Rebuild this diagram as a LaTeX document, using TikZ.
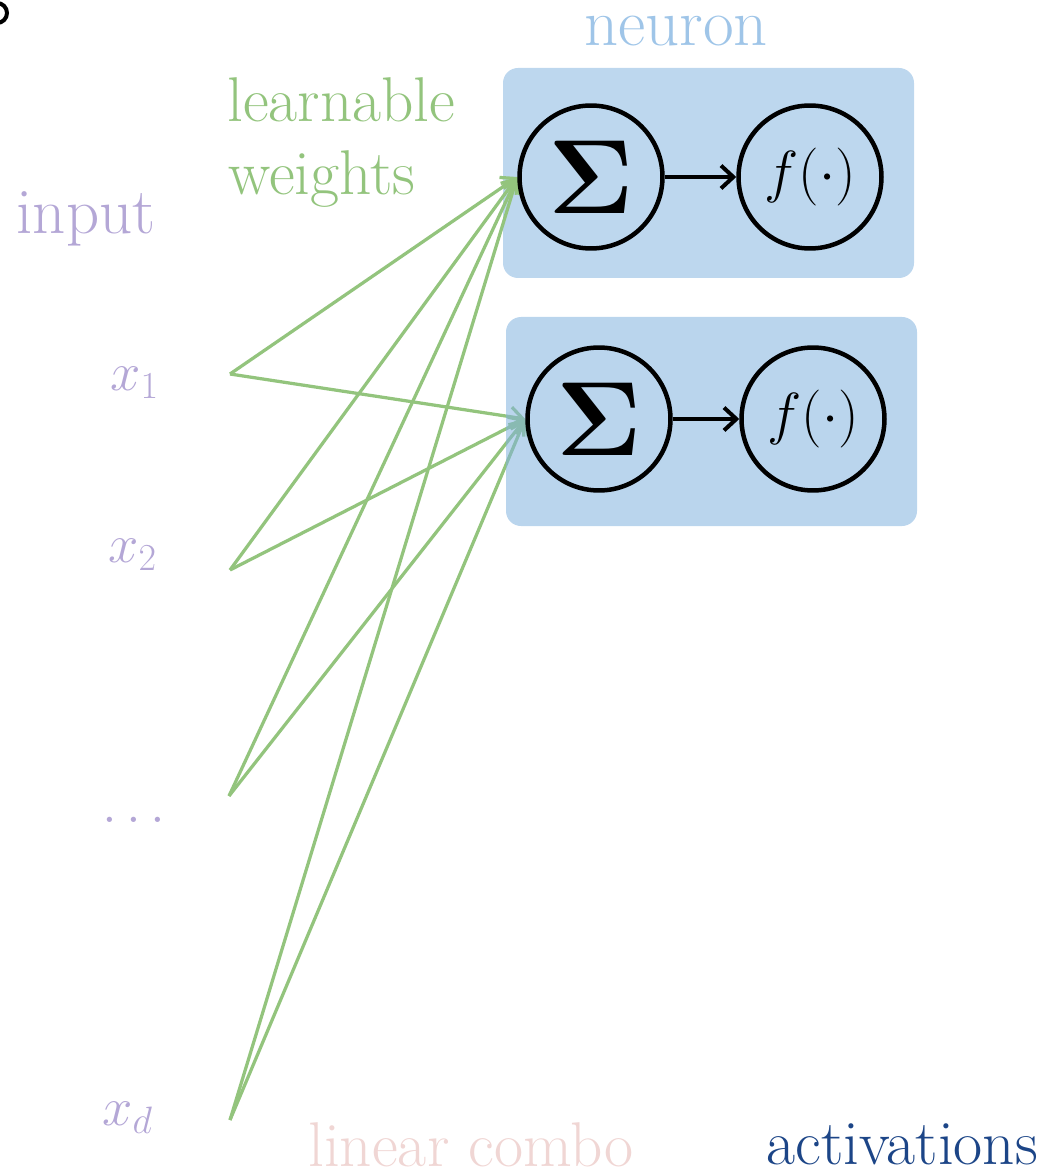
\documentclass[tikz,border=0pt]{standalone}
\usepackage{fix-cm}
\usepackage{amsmath}
\usetikzlibrary{arrows.meta}

\definecolor{boxblue}{RGB}{189,215,238}
\definecolor{boxblueover}{RGB}{129,179,223}
\definecolor{neuronblue}{RGB}{159,197,232}
\definecolor{wgreen}{RGB}{147,196,125}
\definecolor{inpurple}{RGB}{180,167,214}
\definecolor{combopink}{RGB}{240,214,212}
\definecolor{actblue}{RGB}{28,69,135}

\tikzset{
  unitbox/.style={rounded corners=0.3cm},
  opcircle/.style={circle, draw=black, line width=0.09cm, minimum size=2.86cm, inner sep=0pt},
  sumlabel/.style={font=\fontsize{60}{72}\selectfont},
  actlabel/.style={font=\fontsize{33}{40}\selectfont},
  inlabel/.style={text=inpurple, font=\fontsize{31}{37}\selectfont, anchor=base west, inner sep=0pt},
  caption/.style={font=\fontsize{36}{43}\selectfont, inner sep=0pt},
  weightline/.style={draw=wgreen, line width=0.065cm, -{Straight Barb[length=7pt,width=11pt]}},
  flowarrow/.style={draw=black, line width=0.08cm, -{Straight Barb[length=7pt,width=13pt]}}
}

\begin{document}
\begin{tikzpicture}[x=0.02cm, y=-0.02cm]
\useasboundingbox (0,0) rectangle (1048,1175);

% edge of a ring peeking in at the corner
\begin{scope}
  \clip (0,0) rectangle (1048,1175);
  \draw[line width=0.08cm] (-3,13) circle[radius=0.2cm];
\end{scope}

% first neuron background
\fill[boxblue, unitbox] (503,68) rectangle (914,278);

% input points
\coordinate (in1) at (230,374);
\coordinate (in2) at (230,570);
\coordinate (in3) at (229,796);
\coordinate (ind) at (230,1120);

% summation units (positions needed by the weight lines)
\path (591,177) coordinate (s1c);
\path (599,419) coordinate (s2c);
\node[opcircle, draw=none] (s1) at (s1c) {};
\node[opcircle, draw=none] (s2) at (s2c) {};

% learnable weights: every input feeds both units
\foreach \i in {in1,in2,in3,ind} {
  \draw[weightline] (\i) -- (s1.west);
  \draw[weightline] (\i) -- (s2.west);
}

% second neuron background, laid over the weight lines
\fill[boxblueover, fill opacity=0.55, unitbox] (506,317) rectangle (917,526);

% neuron internals
\node[opcircle, sumlabel] (sum1) at (s1c) {$\mathbf{\Sigma}$};
\node[opcircle, actlabel] (act1) at (810,177) {$f(\cdot)$};
\node[opcircle, sumlabel] (sum2) at (s2c) {$\mathbf{\Sigma}$};
\node[opcircle, actlabel] (act2) at (813,419) {$f(\cdot)$};
\draw[flowarrow] (sum1) -- (act1);
\draw[flowarrow] (sum2) -- (act2);

% input labels
\node[inlabel] (lx1) at (110,390) {$x_1$};
\node[inlabel] (lx2) at (108,562) {$x_2$};
\node[inlabel] (ldots) at (102,822) {$\dots$};
\node[inlabel] (lxd) at (102,1125) {$x_d$};

% captions
\node[caption, text=neuronblue, anchor=base, font=\fontsize{38}{45}\selectfont] (cneuron) at (676,46) {neuron};
\node[caption, text=wgreen, anchor=base west] (clearn) at (227,122) {learnable};
\node[caption, text=wgreen, anchor=base west] (cweights) at (228,195) {weights};
\node[caption, text=inpurple, anchor=base, font=\fontsize{37}{44}\selectfont] (cinput) at (86,234) {input};
\node[caption, text=combopink, anchor=base west] (ccombo) at (308,1166) {linear combo};
\node[caption, text=actblue, anchor=base west] (cact) at (766,1164) {activations};
\end{tikzpicture}
\end{document}
